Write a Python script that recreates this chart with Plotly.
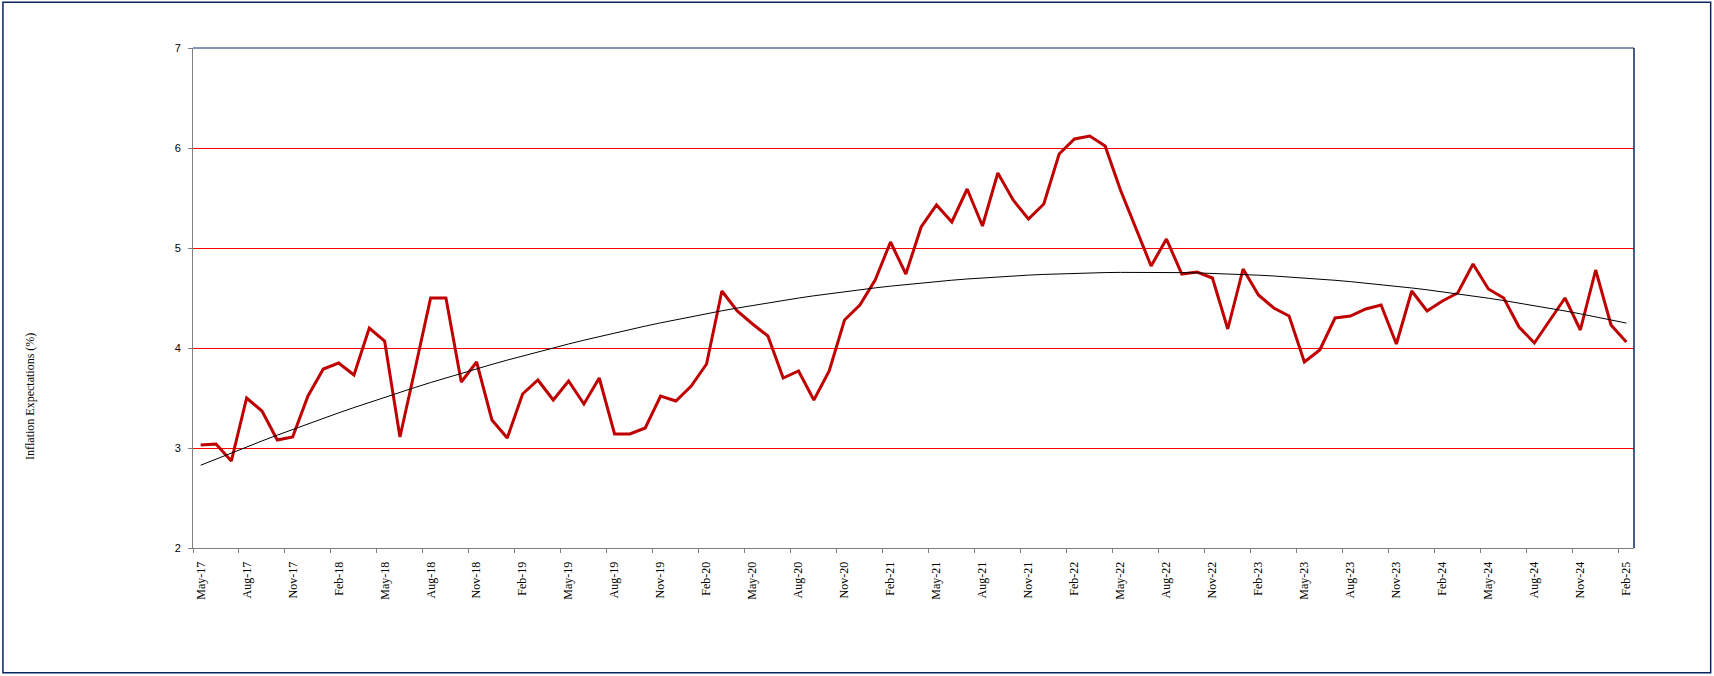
import numpy as np
import pandas as pd
import plotly.graph_objects as go

# monthly survey readings, May-17 .. Feb-25
months = pd.date_range("2017-05-01", "2025-02-01", freq="MS").strftime("%b-%y").tolist()

inflation_exp = [
    3.03, 3.04, 2.87, 3.50, 3.37, 3.08, 3.11, 3.52, 3.79, 3.85,
    3.73, 4.20, 4.07, 3.11, 3.80, 4.50, 4.50, 3.66, 3.86, 3.28,
    3.10, 3.54, 3.68, 3.48, 3.67, 3.44, 3.70, 3.14, 3.14, 3.20,
    3.52, 3.47, 3.62, 3.84, 4.57, 4.37, 4.24, 4.12, 3.70, 3.77,
    3.48, 3.77, 4.28, 4.43, 4.68, 5.06, 4.74, 5.21, 5.43, 5.26,
    5.59, 5.22, 5.75, 5.48, 5.29, 5.44, 5.94, 6.09, 6.12, 6.02,
    5.58, 5.20, 4.82, 5.09, 4.74, 4.76, 4.70, 4.19, 4.79, 4.53,
    4.40, 4.32, 3.86, 3.98, 4.30, 4.32, 4.39, 4.43, 4.04, 4.57,
    4.37, 4.47, 4.55, 4.84, 4.59, 4.50, 4.21, 4.05, 4.28, 4.50,
    4.18, 4.78, 4.23, 4.06,
]

y_ticks = [2, 3, 4, 5, 6, 7]

idx = np.arange(len(months))
label_pos = idx[::3]
label_text = [months[i] for i in label_pos]

# 2nd order polynomial trendline (as in the excel chart)
coef = np.polyfit(idx, inflation_exp, 2)
trend = np.polyval(coef, idx)

fig = go.Figure()
fig.add_trace(go.Scatter(x=idx, y=inflation_exp, mode="lines",
                         line=dict(color="#C00000", width=3)))
fig.add_trace(go.Scatter(x=idx, y=trend, mode="lines",
                         line=dict(color="black", width=1)))

fig.update_layout(
    width=1714, height=676,
    margin=dict(l=193, r=80, t=48, b=128),
    paper_bgcolor="white", plot_bgcolor="white",
    showlegend=False,
    font=dict(family="Liberation Serif, Times New Roman, serif", size=12, color="black"),
)

fig.update_xaxes(
    range=[-0.5, len(months) - 0.5],
    tickmode="array", tickvals=label_pos, ticktext=label_text,
    tickangle=-90, ticks="outside", ticklen=8, tickcolor="rgba(0,0,0,0)",
    showgrid=False, zeroline=False,
    showline=True, linecolor="#808080", linewidth=1,
    minor=dict(tickmode="array", tickvals=(label_pos - 0.5).tolist(),
               ticks="outside", ticklen=4, tickcolor="#808080", showgrid=False),
)
fig.update_yaxes(
    range=[2, 7], tickmode="array", tickvals=y_ticks,
    ticks="outside", ticklen=4, tickcolor="#808080",
    ticklabelstandoff=5,
    tickfont=dict(family="Liberation Sans, Arial, sans-serif", size=11),
    showgrid=True, gridcolor="#FF0000", gridwidth=1.3,
    zeroline=False, showline=True, linecolor="#808080", linewidth=1,
)

# plot area border (top/right) and outer chart border
fig.add_shape(type="line", xref="paper", yref="paper", x0=0, x1=1, y0=1, y1=1,
              line=dict(color="#0A2463", width=1))
fig.add_shape(type="line", xref="paper", yref="paper", x0=1, x1=1, y0=0, y1=1,
              line=dict(color="#0A2463", width=1.5))
fig.add_shape(type="rect", xref="paper", yref="paper",
              x0=-0.1319, x1=1.0532, y0=-0.2494, y1=1.0916,
              line=dict(color="#0A2463", width=1.5))

fig.add_annotation(text="Inflation Expectations (%)", xref="paper", yref="paper",
                   x=-0.1136, y=0.3026, xanchor="center", yanchor="middle",
                   textangle=-90, showarrow=False, font=dict(size=12))

# page has a default 8px body margin, remove it so the figure sits at 0,0
fig.write_html("out.html", config={"displayModeBar": False},
               post_script="document.body.style.margin='0';")
